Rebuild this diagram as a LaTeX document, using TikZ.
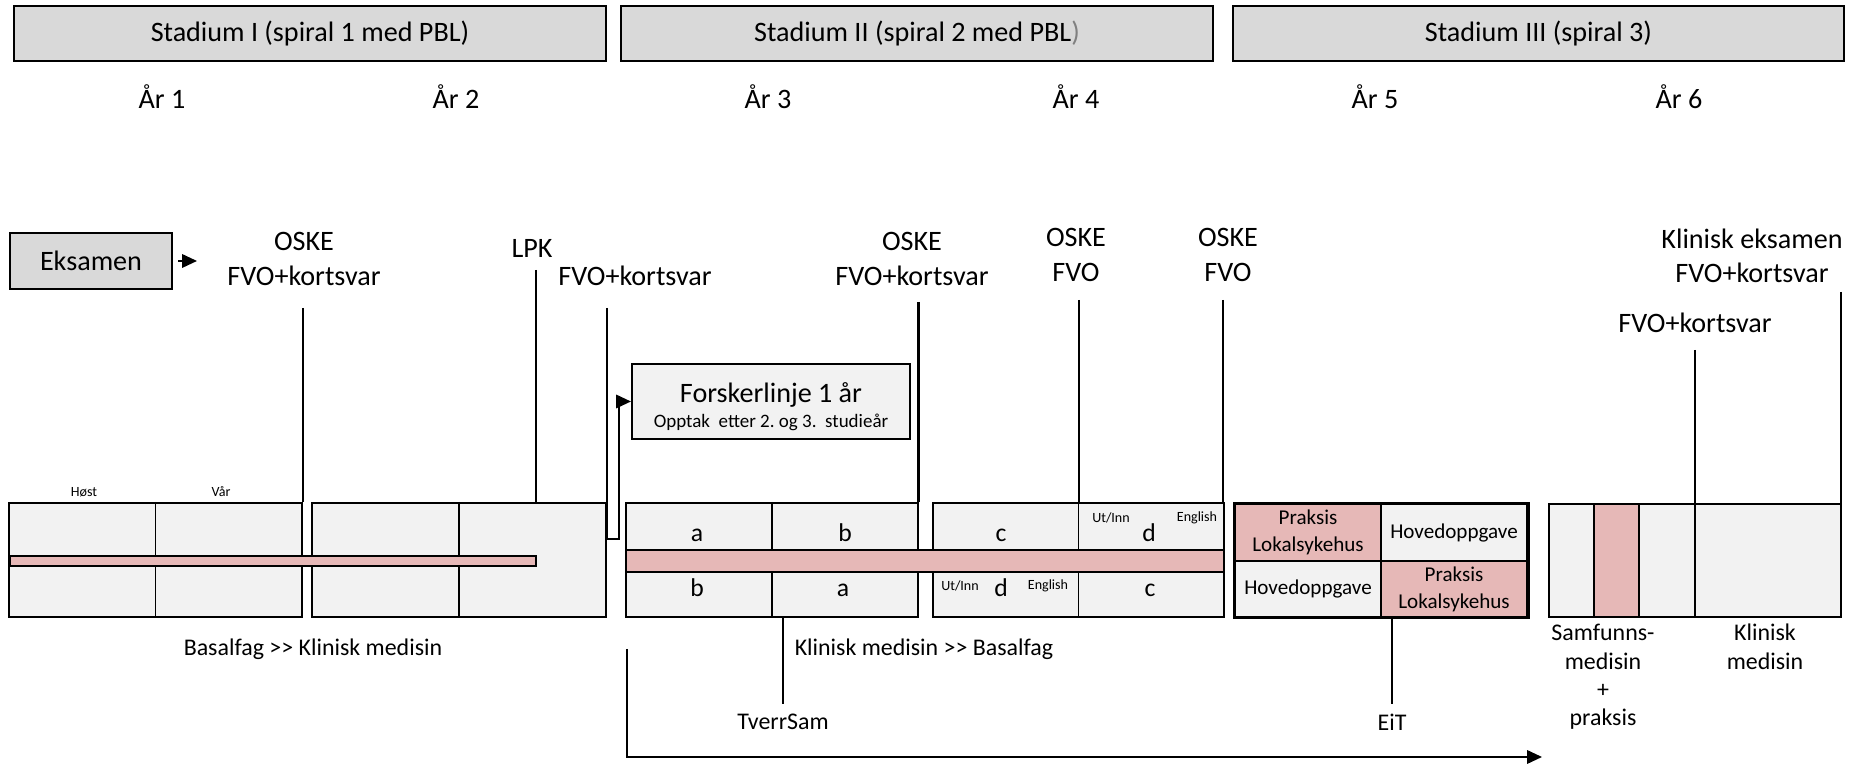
\documentclass[tikz,border=0pt]{standalone}
\usepackage{fontspec}
\setmainfont{Carlito}
\usetikzlibrary{arrows.meta}
\frenchspacing

\definecolor{hdrgray}{HTML}{D9D9D9}
\definecolor{cellgray}{HTML}{F2F2F2}
\definecolor{praksis}{HTML}{E6B8B7}

\tikzset{
  hdr/.style={draw, fill=hdrgray, line width=0.6pt, inner sep=0pt, minimum height=0.55cm,
    font=\fontsize{8}{9.6}\selectfont},
  cell/.style={draw, fill=cellgray, line width=0.55pt, inner sep=0pt},
  rosa/.style={draw, fill=praksis, line width=0.55pt, inner sep=0pt},
  txt/.style={font=\fontsize{8}{9.7}\selectfont, align=center, inner sep=0pt},
  bokstav/.style={font=\fontsize{7.3}{8.5}\selectfont, inner sep=0pt, anchor=base},
  mid/.style={font=\fontsize{6.8}{8.1}\selectfont, align=center, inner sep=0pt},
  liten/.style={font=\fontsize{5.4}{6.4}\selectfont, inner sep=0pt},
  bitte/.style={font=\fontsize{4}{4.8}\selectfont, inner sep=0pt},
  lok/.style={font=\fontsize{6}{7.7}\selectfont, align=center},
  tick/.style={line width=0.55pt},
  pil/.style={line width=0.55pt, -{Triangle[length=4.2pt,width=3.8pt]}},
}

\begin{document}
\begin{tikzpicture}[x=0.01cm, y=-0.01cm]

  \useasboundingbox (0,0) rectangle (1860,768);

  % stadier
  \node[hdr, minimum width=5.92cm] (st1) at (310,33.5) {Stadium I (spiral 1 med PBL)};
  \node[hdr, minimum width=5.92cm] (st2) at (917,33.5) {Stadium II (spiral 2 med PBL\textcolor{gray}{)}};
  \node[hdr, minimum width=6.11cm] (st3) at (1538.5,33.5) {Stadium III (spiral 3)};

  \node[txt] (ar1) at (162,97) {År 1};
  \node[txt] (ar2) at (456,97) {År 2};
  \node[txt] (ar3) at (768,97) {År 3};
  \node[txt] (ar4) at (1076,97) {År 4};
  \node[txt] (ar5) at (1375,97) {År 5};
  \node[txt] (ar6) at (1679,97) {År 6};

  % eksamener
  \node[hdr, minimum width=1.62cm, minimum height=0.56cm] (eks) at (91,261) {Eksamen};
  \coordinate (eksend) at (197,261);
  \draw[pil] ([xshift=0.05cm]eks.east) -- (eksend);

  \node[txt] (ex1) at (304,259) {OSKE\\FVO+kortsvar};
  \node[txt] (lpk) at (532,248) {LPK};
  \node[txt] (ex2) at (635,276) {FVO+kortsvar};
  \node[txt] (ex3) at (912,259) {OSKE\\FVO+kortsvar};
  \node[txt] (ex4) at (1076,255) {OSKE\\FVO};
  \node[txt] (ex5) at (1228,255) {OSKE\\FVO};
  \node[txt] (ex6) at (1695,323) {FVO+kortsvar};
  \node[txt] (ex7) at (1752,256) {Klinisk eksamen\\FVO+kortsvar};

  % forskerlinje
  \node[cell, minimum width=2.78cm, minimum height=0.75cm] (forsk) at (771,401.5) {};
  \node[txt] (forskt) at (771,395) {Forskerlinje 1 år};
  \node[liten] (forsks) at (771,422) {Opptak\ \ etter 2. og 3.\ \ studieår};

  % blokker
  \node[cell, minimum width=2.93cm, minimum height=1.14cm] (blkA) at (155.5,560) {};
  \node[cell, minimum width=2.94cm, minimum height=1.14cm] (blkB) at (459,560) {};
  \node[cell, minimum width=2.92cm, minimum height=1.14cm] (blkC) at (772,560) {};
  \node[cell, minimum width=2.91cm, minimum height=1.14cm] (blkD) at (1078.5,560) {};
  \node[cell, minimum width=2.92cm, minimum height=1.13cm] (blkF) at (1695,560.5) {};
  \foreach \b in {blkA,blkB,blkC,blkD,blkF}
    \draw[tick] (\b.north) -- (\b.south);

  \node[rosa, minimum width=5.26cm, minimum height=0.10cm] (pinkI) at (273,561) {};
  \node[rosa, minimum width=5.98cm, minimum height=0.22cm] (pinkII) at (925,561) {};
  \node[rosa, minimum width=0.45cm, minimum height=1.13cm] (pinkF) at (1616.5,560.5) {};

  \node[rosa, lok, minimum width=1.46cm, minimum height=0.57cm] (eTL) at (1308,532.5) {Praksis\\Lokalsykehus};
  \node[cell, lok, minimum width=1.46cm, minimum height=0.57cm] (eTR) at (1454,532.5) {Hovedoppgave};
  \node[cell, lok, minimum width=1.46cm, minimum height=0.56cm] (eBL) at (1308,589) {Hovedoppgave};
  \node[rosa, lok, minimum width=1.46cm, minimum height=0.56cm] (eBR) at (1454,589) {Praksis\\Lokalsykehus};
  \draw[line width=0.85pt] (eTL.north west) rectangle (eBR.south east);

  \node[bitte] (host) at (84,492) {Høst};
  \node[bitte] (vaar) at (221,492) {Vår};

  \node[bokstav] (a1) at (697,542) {a};
  \node[bokstav] (b1) at (845,542) {b};
  \node[bokstav] (c1) at (1001,542) {c};
  \node[bokstav] (d1) at (1149,542) {d};
  \node[bokstav] (b2) at (697,597) {b};
  \node[bokstav] (a2) at (843,597) {a};
  \node[bokstav] (d2) at (1001,597) {d};
  \node[bokstav] (c2) at (1150,597) {c};
  \node[bitte] (ut1) at (1111,518) {Ut/Inn};
  \node[bitte] (en1) at (1197,518) {English};
  \node[bitte] (ut2) at (960,586) {Ut/Inn};
  \node[bitte] (en2) at (1048,586) {English};

  % streker ned til blokkene
  \coordinate (t1) at (303,308);
  \coordinate (tlpk) at (536,270);
  \coordinate (t2) at (607,308);
  \coordinate (t3) at (918,302);
  \coordinate (t4) at (1079,300);
  \coordinate (t5) at (1223,300);
  \coordinate (t6) at (1695,350);
  \coordinate (t7) at (1841,292);
  \draw[tick] (t1) -- (t1 |- blkA.north);
  \draw[tick] (tlpk) -- (tlpk |- blkB.north);
  \draw[line width=0.85pt] (t3) -- (t3 |- blkC.north);
  \draw[tick] (t4) -- (t4 |- blkD.north);
  \draw[tick] (t5) -- (t5 |- blkD.north);
  \draw[tick] (t6) -- (t6 |- blkF.north);
  \draw[tick] (t7) -- (t7 |- blkF.north);

  \coordinate (knee) at (619,539);
  \draw[pil] (t2) |- (knee) |- (forsk.west);

  % tekst under
  \node[mid] (basal) at (313,649) {Basalfag >{}> Klinisk medisin};
  \node[mid] (klin) at (924,649) {Klinisk medisin >{}> Basalfag};
  \node[mid] (tverr) at (783,722) {TverrSam};
  \node[mid] (eit) at (1392,722) {EiT};
  \draw[tick] (tverr.north |- blkC.south) -- ([yshift=0.09cm]tverr.north);
  \draw[tick] (eit.north |- eBR.south) -- ([yshift=0.09cm]eit.north);
  \node[mid] (samf) at (1603,677) {Samfunns-\\medisin\\+\\praksis};
  \node[mid] (klmed) at (1765,647) {Klinisk\\medisin};

  \coordinate (arrtop) at (627,649);
  \coordinate (arrend) at (1542,757);
  \draw[pil] (arrtop) |- (arrend);

\end{tikzpicture}
\end{document}
